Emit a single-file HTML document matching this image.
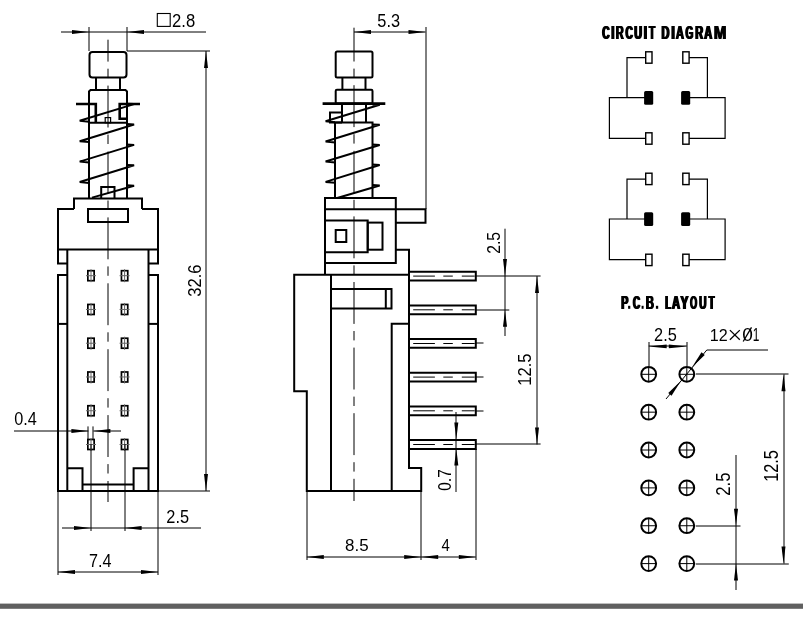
<!DOCTYPE html>
<html><head><meta charset="utf-8"><style>
html,body{margin:0;padding:0;background:#fff;width:803px;height:620px;overflow:hidden;-webkit-font-smoothing:antialiased}
svg{display:block;will-change:transform}
.o{stroke:#000;stroke-width:2;fill:none}
.o3{stroke:#000;stroke-width:2.6;fill:none}
.d{stroke:#000;stroke-width:1;fill:none}
.ds{stroke:#000;stroke-width:1.1;fill:none}
.c{stroke:#000;stroke-width:1;fill:none}
.w{stroke:#000;stroke-width:1.2;fill:none}
.ct{stroke:#000;stroke-width:1.4;fill:#fff}
.cb{stroke:none;fill:#000}
.ar{fill:#000;stroke:none}
.pm{stroke:#000;stroke-width:1.7;fill:none}
.pl{stroke:#666;stroke-width:1}
.h{stroke:#000;stroke-width:2;fill:none}
.hx{stroke:#000;stroke-width:1;fill:none}
.x{stroke:#000;stroke-width:1.3;fill:none}
.t{font-family:"Liberation Sans",sans-serif;fill:#000}
.tb{font-family:"Liberation Sans",sans-serif;font-weight:bold;fill:#000}
</style></head><body>
<svg width="803" height="620" viewBox="0 0 803 620">
<line x1="89" y1="27" x2="89" y2="51" class="d"/>
<line x1="127" y1="27" x2="127" y2="51" class="d"/>
<line x1="61" y1="32" x2="206" y2="32" class="d"/>
<polygon points="89.00,32.00 72.00,34.00 72.00,30.00" class="ar"/>
<polygon points="127.00,32.00 144.00,30.00 144.00,34.00" class="ar"/>
<rect x="157.3" y="13.5" width="12.9" height="12.9" rx="0" class="ds"/>
<text x="0" y="0" transform="matrix(0.9261,0,0,1.0077,172.07,26.90)" class="t" font-size="18">2.8</text>
<line x1="127" y1="51" x2="210" y2="51" class="d"/>
<line x1="206" y1="51" x2="206" y2="491" class="d"/>
<polygon points="206.00,51.00 208.00,68.00 204.00,68.00" class="ar"/>
<polygon points="206.00,491.00 204.00,474.00 208.00,474.00" class="ar"/>
<text x="0" y="0" transform="matrix(0,-0.9182,1.0692,0,201.00,296.72)" class="t" font-size="18">32.6</text>
<rect x="89.5" y="52" width="37" height="25.5" rx="3" class="o"/>
<line x1="96" y1="77.5" x2="96" y2="89.5" class="o"/>
<line x1="120" y1="77.5" x2="120" y2="89.5" class="o"/>
<polyline points="89,198 89,91.5 90.5,90 125.5,90 127,91.5 127,198" class="o"/>
<polyline points="76,104 95.8,104 95.8,122.8" class="o3"/>
<polyline points="140,104 119.7,104 119.7,118.8 127,118.8" class="o3"/>
<line x1="89" y1="122.8" x2="127" y2="122.8" class="o"/>
<rect x="105.2" y="117.6" width="5.4" height="5.2" rx="0" class="w"/>
<polyline points="89,121.7 79.7,120.8 134.1,104.1 127,103.69999999999999" class="o"/>
<polyline points="89,142.1 79.7,141.2 134.1,124.49999999999999 127,124.09999999999998" class="o"/>
<polyline points="89,162.5 79.7,161.6 134.1,144.9 127,144.5" class="o"/>
<polyline points="89,182.9 79.7,182.0 134.1,165.3 127,164.9" class="o"/>
<polyline points="92,197.6 134.1,185.7 127,185.3" class="o"/>
<polyline points="101.2,198 101.2,187 114.5,187 114.5,198" class="o"/>
<polyline points="74,209 74,198.5 142,198.5 142,209" class="o"/>
<polyline points="74,209 58,209 58,263.4 67.3,263.4" class="o"/>
<polyline points="142,209 158,209 158,263.4 148.5,263.4" class="o"/>
<line x1="58" y1="249.5" x2="158" y2="249.5" class="o"/>
<rect x="88" y="209" width="40" height="13" rx="0" class="o"/>
<polyline points="67.3,275.1 58,275.1 58,491 158,491 158,275.1 148.5,275.1" class="o"/>
<line x1="67.3" y1="249.5" x2="67.3" y2="491" class="o"/>
<line x1="148.5" y1="249.5" x2="148.5" y2="491" class="o"/>
<line x1="58" y1="323.9" x2="67.3" y2="323.9" class="o"/>
<line x1="148.5" y1="323.9" x2="158" y2="323.9" class="o"/>
<polyline points="67.3,468.3 82.5,468.3 82.5,491" class="o"/>
<polyline points="148.5,468.3 133.6,468.3 133.6,491" class="o"/>
<line x1="82.5" y1="484.4" x2="133.6" y2="484.4" class="o"/>
<rect x="87.85" y="270.7" width="6.3" height="10" rx="0" class="pm"/>
<line x1="91" y1="269.2" x2="91" y2="282.2" class="pl"/>
<line x1="86" y1="275.7" x2="96" y2="275.7" class="pl"/>
<rect x="121.44999999999999" y="270.7" width="6.3" height="10" rx="0" class="pm"/>
<line x1="124.6" y1="269.2" x2="124.6" y2="282.2" class="pl"/>
<line x1="119.6" y1="275.7" x2="129.6" y2="275.7" class="pl"/>
<rect x="87.85" y="304.46" width="6.3" height="10" rx="0" class="pm"/>
<line x1="91" y1="302.96" x2="91" y2="315.96" class="pl"/>
<line x1="86" y1="309.46" x2="96" y2="309.46" class="pl"/>
<rect x="121.44999999999999" y="304.46" width="6.3" height="10" rx="0" class="pm"/>
<line x1="124.6" y1="302.96" x2="124.6" y2="315.96" class="pl"/>
<line x1="119.6" y1="309.46" x2="129.6" y2="309.46" class="pl"/>
<rect x="87.85" y="338.21999999999997" width="6.3" height="10" rx="0" class="pm"/>
<line x1="91" y1="336.71999999999997" x2="91" y2="349.71999999999997" class="pl"/>
<line x1="86" y1="343.21999999999997" x2="96" y2="343.21999999999997" class="pl"/>
<rect x="121.44999999999999" y="338.21999999999997" width="6.3" height="10" rx="0" class="pm"/>
<line x1="124.6" y1="336.71999999999997" x2="124.6" y2="349.71999999999997" class="pl"/>
<line x1="119.6" y1="343.21999999999997" x2="129.6" y2="343.21999999999997" class="pl"/>
<rect x="87.85" y="371.98" width="6.3" height="10" rx="0" class="pm"/>
<line x1="91" y1="370.48" x2="91" y2="383.48" class="pl"/>
<line x1="86" y1="376.98" x2="96" y2="376.98" class="pl"/>
<rect x="121.44999999999999" y="371.98" width="6.3" height="10" rx="0" class="pm"/>
<line x1="124.6" y1="370.48" x2="124.6" y2="383.48" class="pl"/>
<line x1="119.6" y1="376.98" x2="129.6" y2="376.98" class="pl"/>
<rect x="87.85" y="405.74" width="6.3" height="10" rx="0" class="pm"/>
<line x1="91" y1="404.24" x2="91" y2="417.24" class="pl"/>
<line x1="86" y1="410.74" x2="96" y2="410.74" class="pl"/>
<rect x="121.44999999999999" y="405.74" width="6.3" height="10" rx="0" class="pm"/>
<line x1="124.6" y1="404.24" x2="124.6" y2="417.24" class="pl"/>
<line x1="119.6" y1="410.74" x2="129.6" y2="410.74" class="pl"/>
<rect x="87.85" y="439.5" width="6.3" height="10" rx="0" class="pm"/>
<line x1="91" y1="438.0" x2="91" y2="451.0" class="pl"/>
<line x1="86" y1="444.5" x2="96" y2="444.5" class="pl"/>
<rect x="121.44999999999999" y="439.5" width="6.3" height="10" rx="0" class="pm"/>
<line x1="124.6" y1="438.0" x2="124.6" y2="451.0" class="pl"/>
<line x1="119.6" y1="444.5" x2="129.6" y2="444.5" class="pl"/>
<line x1="108" y1="39.7" x2="108" y2="502" class="c" stroke-dasharray="41.9 7.1 9.4 7.5" stroke-dashoffset="20"/>
<line x1="88" y1="426.4" x2="88" y2="440" class="d"/>
<line x1="93" y1="426.4" x2="93" y2="440" class="d"/>
<line x1="14" y1="431" x2="88.4" y2="431" class="d"/>
<line x1="93.4" y1="431" x2="121" y2="431" class="d"/>
<polygon points="88.40,431.00 71.40,433.00 71.40,429.00" class="ar"/>
<polygon points="93.40,431.00 110.40,429.00 110.40,433.00" class="ar"/>
<text x="0" y="0" transform="matrix(0.9042,0,0,0.9923,14.30,424.90)" class="t" font-size="18">0.4</text>
<line x1="91" y1="444" x2="91" y2="531" class="d"/>
<line x1="125" y1="444" x2="125" y2="531" class="d"/>
<line x1="58" y1="491" x2="58" y2="575" class="d"/>
<line x1="158" y1="491" x2="158" y2="575" class="d"/>
<line x1="158" y1="491" x2="210" y2="491" class="d"/>
<line x1="62" y1="528" x2="201" y2="528" class="d"/>
<polygon points="91.00,528.00 74.00,530.00 74.00,526.00" class="ar"/>
<polygon points="124.60,528.00 141.60,526.00 141.60,530.00" class="ar"/>
<text x="0" y="0" transform="matrix(0.9087,0,0,1.0000,166.29,523.00)" class="t" font-size="18">2.5</text>
<line x1="58" y1="572" x2="158" y2="572" class="d"/>
<polygon points="58.00,572.00 75.00,570.00 75.00,574.00" class="ar"/>
<polygon points="158.00,572.00 141.00,574.00 141.00,570.00" class="ar"/>
<text x="0" y="0" transform="matrix(0.9000,0,0,1.0000,89.10,566.90)" class="t" font-size="18">7.4</text>
<line x1="426" y1="27" x2="426" y2="209" class="d"/>
<line x1="354" y1="32" x2="425.5" y2="32" class="d"/>
<polygon points="354.00,32.00 371.00,30.00 371.00,34.00" class="ar"/>
<polygon points="425.50,32.00 408.50,34.00 408.50,30.00" class="ar"/>
<text x="0" y="0" transform="matrix(0.9087,0,0,0.9923,377.29,26.90)" class="t" font-size="18">5.3</text>
<rect x="335.7" y="51.4" width="36.8" height="26" rx="1.5" class="o"/>
<line x1="342.4" y1="77" x2="342.4" y2="89.8" class="o"/>
<line x1="365.5" y1="77" x2="365.5" y2="89.8" class="o"/>
<rect x="335.7" y="89.8" width="36.8" height="13.8" rx="1.2" class="o"/>
<line x1="322.6" y1="103.6" x2="385.3" y2="103.6" class="o3"/>
<line x1="342" y1="103.6" x2="342" y2="122.5" class="o"/>
<line x1="366" y1="103.6" x2="366" y2="122.5" class="o"/>
<polyline points="342,112.6 330,112.6 330,122.5 342,122.5" class="o"/>
<polyline points="335,198 335,122.5 372.5,122.5 372.5,198" class="o"/>
<polyline points="335,122.2 325.6,121.3 379.7,104.8 372.5,104.39999999999999" class="o"/>
<polyline points="335,142.4 325.6,141.5 379.7,124.8 372.5,124.39999999999999" class="o"/>
<polyline points="335,162.4 325.6,161.5 379.7,145 372.5,144.6" class="o"/>
<polyline points="335,182.8 325.6,181.9 379.7,165 372.5,164.6" class="o"/>
<polyline points="337.2,198 379.7,185.5 372.5,185.1" class="o"/>
<rect x="325" y="198" width="70.8" height="65" rx="0" class="o"/>
<polyline points="325,209.2 425.5,209.2 425.5,222.7 395.8,222.7" class="o"/>
<polyline points="325,220.5 367.7,220.5 367.7,252.3 325,252.3" class="o"/>
<rect x="367.7" y="222.6" width="14.8" height="27.1" rx="0" class="o"/>
<rect x="335.7" y="230" width="10.6" height="12" rx="0" class="o"/>
<polyline points="395.8,249.7 409,249.7 409,468 421.2,468 421.2,491 306.8,491 306.8,391.3 294.2,391.3 294.2,274.7 409,274.7" class="o"/>
<line x1="325" y1="263" x2="325" y2="274.7" class="o"/>
<line x1="331" y1="274.7" x2="331" y2="491" class="o"/>
<rect x="331" y="289" width="60.5" height="19.5" rx="0" class="o"/>
<line x1="385.8" y1="289" x2="385.8" y2="308.5" class="o"/>
<polyline points="409,323.7 391.7,323.7 391.7,491" class="o"/>
<polyline points="409,271.70000000000005 475.8,271.70000000000005 475.8,280.5 409,280.5" class="o"/>
<line x1="413.2" y1="276.1" x2="474.7" y2="276.1" class="c" stroke-dasharray="21.7 8.4 9.5 9"/>
<polyline points="409,305.38000000000005 475.8,305.38000000000005 475.8,314.18 409,314.18" class="o"/>
<line x1="413.2" y1="309.8" x2="474.7" y2="309.8" class="c" stroke-dasharray="21.7 8.4 9.5 9"/>
<polyline points="409,339.06000000000006 475.8,339.06000000000006 475.8,347.86 409,347.86" class="o"/>
<line x1="413.2" y1="343.5" x2="474.7" y2="343.5" class="c" stroke-dasharray="21.7 8.4 9.5 9"/>
<polyline points="409,372.74 475.8,372.74 475.8,381.53999999999996 409,381.53999999999996" class="o"/>
<line x1="413.2" y1="377.1" x2="474.7" y2="377.1" class="c" stroke-dasharray="21.7 8.4 9.5 9"/>
<polyline points="409,406.4200000000001 475.8,406.4200000000001 475.8,415.22 409,415.22" class="o"/>
<line x1="413.2" y1="410.8" x2="474.7" y2="410.8" class="c" stroke-dasharray="21.7 8.4 9.5 9"/>
<polyline points="409,440.1 475.8,440.1 475.8,448.9 409,448.9" class="o"/>
<line x1="413.2" y1="444.5" x2="474.7" y2="444.5" class="c" stroke-dasharray="21.7 8.4 9.5 9"/>
<line x1="354" y1="27.7" x2="354" y2="501" class="c" stroke-dasharray="41.9 7.1 9.4 7.2" stroke-dashoffset="8.1"/>
<line x1="475.8" y1="276" x2="540.6" y2="276" class="d"/>
<line x1="475.8" y1="310" x2="509.3" y2="310" class="d"/>
<line x1="475.8" y1="343" x2="483.5" y2="343" class="d"/>
<line x1="475.8" y1="377" x2="483.5" y2="377" class="d"/>
<line x1="475.8" y1="411" x2="483.5" y2="411" class="d"/>
<line x1="475.8" y1="444" x2="540.6" y2="444" class="d"/>
<line x1="505" y1="228.7" x2="505" y2="336" class="d"/>
<polygon points="505.00,276.10 503.00,259.10 507.00,259.10" class="ar"/>
<polygon points="505.00,309.78 507.00,326.78 503.00,326.78" class="ar"/>
<text x="0" y="0" transform="matrix(0,-0.8739,1.0615,0,499.80,253.77)" class="t" font-size="18">2.5</text>
<line x1="537" y1="276.1" x2="537" y2="444.5" class="d"/>
<polygon points="537.00,276.10 539.00,293.10 535.00,293.10" class="ar"/>
<polygon points="537.00,444.50 535.00,427.50 539.00,427.50" class="ar"/>
<text x="0" y="0" transform="matrix(0,-0.9182,1.0462,0,531.30,385.72)" class="t" font-size="18">12.5</text>
<line x1="456" y1="412" x2="456" y2="492" class="d"/>
<polygon points="456.30,439.50 454.30,422.50 458.30,422.50" class="ar"/>
<polygon points="456.30,448.60 458.30,465.60 454.30,465.60" class="ar"/>
<text x="0" y="0" transform="matrix(0,-0.8609,1.0231,0,451.00,490.76)" class="t" font-size="18">0.7</text>
<line x1="307" y1="491" x2="307" y2="560" class="d"/>
<line x1="476" y1="449" x2="476" y2="560" class="d"/>
<line x1="421" y1="491" x2="421" y2="560" class="d"/>
<line x1="306.8" y1="557" x2="475.8" y2="557" class="d"/>
<polygon points="306.80,557.00 323.80,555.00 323.80,559.00" class="ar"/>
<polygon points="421.20,557.00 404.20,559.00 404.20,555.00" class="ar"/>
<polygon points="421.20,557.00 438.20,555.00 438.20,559.00" class="ar"/>
<polygon points="475.80,557.00 458.80,559.00 458.80,555.00" class="ar"/>
<text x="0" y="0" transform="matrix(0.9435,0,0,0.9538,345.06,550.60)" class="t" font-size="18">8.5</text>
<text x="0" y="0" transform="matrix(0.8300,0,0,0.9538,441.60,550.60)" class="t" font-size="18">4</text>
<text x="0" y="0" transform="matrix(0.5636,0,0,0.9692,601.54,38.60)" class="tb" font-size="18">C</text><text x="0" y="0" transform="matrix(0.5636,0,0,0.9692,602.24,38.60)" class="tb" font-size="18">C</text><text x="0" y="0" transform="matrix(0.5636,0,0,0.9692,602.94,38.60)" class="tb" font-size="18">C</text>
<text x="0" y="0" transform="matrix(0.7000,0,0,0.9692,610.40,38.60)" class="tb" font-size="18">I</text><text x="0" y="0" transform="matrix(0.7000,0,0,0.9692,611.10,38.60)" class="tb" font-size="18">I</text><text x="0" y="0" transform="matrix(0.7000,0,0,0.9692,611.80,38.60)" class="tb" font-size="18">I</text>
<text x="0" y="0" transform="matrix(0.6000,0,0,0.9692,615.20,38.60)" class="tb" font-size="18">R</text><text x="0" y="0" transform="matrix(0.6000,0,0,0.9692,615.90,38.60)" class="tb" font-size="18">R</text><text x="0" y="0" transform="matrix(0.6000,0,0,0.9692,616.60,38.60)" class="tb" font-size="18">R</text>
<text x="0" y="0" transform="matrix(0.5636,0,0,0.9692,624.74,38.60)" class="tb" font-size="18">C</text><text x="0" y="0" transform="matrix(0.5636,0,0,0.9692,625.44,38.60)" class="tb" font-size="18">C</text><text x="0" y="0" transform="matrix(0.5636,0,0,0.9692,626.14,38.60)" class="tb" font-size="18">C</text>
<text x="0" y="0" transform="matrix(0.6000,0,0,0.9692,633.60,38.60)" class="tb" font-size="18">U</text><text x="0" y="0" transform="matrix(0.6000,0,0,0.9692,634.30,38.60)" class="tb" font-size="18">U</text><text x="0" y="0" transform="matrix(0.6000,0,0,0.9692,635.00,38.60)" class="tb" font-size="18">U</text>
<text x="0" y="0" transform="matrix(0.6667,0,0,0.9692,643.03,38.60)" class="tb" font-size="18">I</text><text x="0" y="0" transform="matrix(0.6667,0,0,0.9692,643.73,38.60)" class="tb" font-size="18">I</text><text x="0" y="0" transform="matrix(0.6667,0,0,0.9692,644.43,38.60)" class="tb" font-size="18">I</text>
<text x="0" y="0" transform="matrix(0.5727,0,0,0.9692,648.20,38.60)" class="tb" font-size="18">T</text><text x="0" y="0" transform="matrix(0.5727,0,0,0.9692,648.90,38.60)" class="tb" font-size="18">T</text><text x="0" y="0" transform="matrix(0.5727,0,0,0.9692,649.60,38.60)" class="tb" font-size="18">T</text>
<text x="0" y="0" transform="matrix(0.6091,0,0,0.9692,660.79,38.60)" class="tb" font-size="18">D</text><text x="0" y="0" transform="matrix(0.6091,0,0,0.9692,661.49,38.60)" class="tb" font-size="18">D</text><text x="0" y="0" transform="matrix(0.6091,0,0,0.9692,662.19,38.60)" class="tb" font-size="18">D</text>
<text x="0" y="0" transform="matrix(0.7333,0,0,0.9692,670.57,38.60)" class="tb" font-size="18">I</text><text x="0" y="0" transform="matrix(0.7333,0,0,0.9692,671.27,38.60)" class="tb" font-size="18">I</text><text x="0" y="0" transform="matrix(0.7333,0,0,0.9692,671.97,38.60)" class="tb" font-size="18">I</text>
<text x="0" y="0" transform="matrix(0.6182,0,0,0.9692,675.18,38.60)" class="tb" font-size="18">A</text><text x="0" y="0" transform="matrix(0.6182,0,0,0.9692,675.88,38.60)" class="tb" font-size="18">A</text><text x="0" y="0" transform="matrix(0.6182,0,0,0.9692,676.58,38.60)" class="tb" font-size="18">A</text>
<text x="0" y="0" transform="matrix(0.5500,0,0,0.9692,684.85,38.60)" class="tb" font-size="18">G</text><text x="0" y="0" transform="matrix(0.5500,0,0,0.9692,685.55,38.60)" class="tb" font-size="18">G</text><text x="0" y="0" transform="matrix(0.5500,0,0,0.9692,686.25,38.60)" class="tb" font-size="18">G</text>
<text x="0" y="0" transform="matrix(0.6091,0,0,0.9692,694.59,38.60)" class="tb" font-size="18">R</text><text x="0" y="0" transform="matrix(0.6091,0,0,0.9692,695.29,38.60)" class="tb" font-size="18">R</text><text x="0" y="0" transform="matrix(0.6091,0,0,0.9692,695.99,38.60)" class="tb" font-size="18">R</text>
<text x="0" y="0" transform="matrix(0.6091,0,0,0.9692,703.59,38.60)" class="tb" font-size="18">A</text><text x="0" y="0" transform="matrix(0.6091,0,0,0.9692,704.29,38.60)" class="tb" font-size="18">A</text><text x="0" y="0" transform="matrix(0.6091,0,0,0.9692,704.99,38.60)" class="tb" font-size="18">A</text>
<text x="0" y="0" transform="matrix(0.8308,0,0,0.9692,713.17,38.60)" class="tb" font-size="18">M</text><text x="0" y="0" transform="matrix(0.8308,0,0,0.9692,713.87,38.60)" class="tb" font-size="18">M</text><text x="0" y="0" transform="matrix(0.8308,0,0,0.9692,714.57,38.60)" class="tb" font-size="18">M</text>
<polyline points="645,57.7 627,57.7 627,97.6" class="w"/>
<polyline points="645,97.6 609.4,97.6 609.4,138.3 645,138.3" class="w"/>
<polyline points="689,57.7 707.4,57.7 707.4,97.6" class="w"/>
<polyline points="689,97.6 725.1,97.6 725.1,138.3 689,138.3" class="w"/>
<rect x="645.7" y="51.8" width="6.3" height="11.4" rx="0" class="ct"/>
<rect x="645.7" y="132.8" width="6.3" height="11.4" rx="0" class="ct"/>
<rect x="644.1" y="90.9" width="9.1" height="13.8" rx="1.5" class="cb"/>
<rect x="682.8" y="51.8" width="6.3" height="11.4" rx="0" class="ct"/>
<rect x="682.8" y="132.8" width="6.3" height="11.4" rx="0" class="ct"/>
<rect x="681.1" y="90.9" width="9.1" height="13.8" rx="1.5" class="cb"/>
<polyline points="645,179.10000000000002 627,179.10000000000002 627,219.0" class="w"/>
<polyline points="645,219.0 609.4,219.0 609.4,259.70000000000005 645,259.70000000000005" class="w"/>
<polyline points="689,179.10000000000002 707.4,179.10000000000002 707.4,219.0" class="w"/>
<polyline points="689,219.0 725.1,219.0 725.1,259.70000000000005 689,259.70000000000005" class="w"/>
<rect x="645.7" y="173.2" width="6.3" height="11.4" rx="0" class="ct"/>
<rect x="645.7" y="254.20000000000002" width="6.3" height="11.4" rx="0" class="ct"/>
<rect x="644.1" y="212.3" width="9.1" height="13.8" rx="1.5" class="cb"/>
<rect x="682.8" y="173.2" width="6.3" height="11.4" rx="0" class="ct"/>
<rect x="682.8" y="254.20000000000002" width="6.3" height="11.4" rx="0" class="ct"/>
<rect x="681.1" y="212.3" width="9.1" height="13.8" rx="1.5" class="cb"/>
<text x="0" y="0" transform="matrix(0.5900,0,0,0.9846,620.51,308.80)" class="tb" font-size="18">P</text><text x="0" y="0" transform="matrix(0.5900,0,0,0.9846,621.21,308.80)" class="tb" font-size="18">P</text><text x="0" y="0" transform="matrix(0.5900,0,0,0.9846,621.91,308.80)" class="tb" font-size="18">P</text>
<text x="0" y="0" transform="matrix(0.5455,0,0,0.9846,632.35,308.80)" class="tb" font-size="18">C</text><text x="0" y="0" transform="matrix(0.5455,0,0,0.9846,633.05,308.80)" class="tb" font-size="18">C</text><text x="0" y="0" transform="matrix(0.5455,0,0,0.9846,633.75,308.80)" class="tb" font-size="18">C</text>
<text x="0" y="0" transform="matrix(0.6182,0,0,0.9846,645.18,308.80)" class="tb" font-size="18">B</text><text x="0" y="0" transform="matrix(0.6182,0,0,0.9846,645.88,308.80)" class="tb" font-size="18">B</text><text x="0" y="0" transform="matrix(0.6182,0,0,0.9846,646.58,308.80)" class="tb" font-size="18">B</text>
<text x="0" y="0" transform="matrix(0.5222,0,0,0.9846,664.48,308.80)" class="tb" font-size="18">L</text><text x="0" y="0" transform="matrix(0.5222,0,0,0.9846,665.18,308.80)" class="tb" font-size="18">L</text><text x="0" y="0" transform="matrix(0.5222,0,0,0.9846,665.88,308.80)" class="tb" font-size="18">L</text>
<text x="0" y="0" transform="matrix(0.6182,0,0,0.9846,671.28,308.80)" class="tb" font-size="18">A</text><text x="0" y="0" transform="matrix(0.6182,0,0,0.9846,671.98,308.80)" class="tb" font-size="18">A</text><text x="0" y="0" transform="matrix(0.6182,0,0,0.9846,672.68,308.80)" class="tb" font-size="18">A</text>
<text x="0" y="0" transform="matrix(0.6600,0,0,0.9846,679.84,308.80)" class="tb" font-size="18">Y</text><text x="0" y="0" transform="matrix(0.6600,0,0,0.9846,680.54,308.80)" class="tb" font-size="18">Y</text><text x="0" y="0" transform="matrix(0.6600,0,0,0.9846,681.24,308.80)" class="tb" font-size="18">Y</text>
<text x="0" y="0" transform="matrix(0.5000,0,0,0.9846,689.40,308.80)" class="tb" font-size="18">O</text><text x="0" y="0" transform="matrix(0.5000,0,0,0.9846,690.10,308.80)" class="tb" font-size="18">O</text><text x="0" y="0" transform="matrix(0.5000,0,0,0.9846,690.80,308.80)" class="tb" font-size="18">O</text>
<text x="0" y="0" transform="matrix(0.5727,0,0,0.9846,698.43,308.80)" class="tb" font-size="18">U</text><text x="0" y="0" transform="matrix(0.5727,0,0,0.9846,699.13,308.80)" class="tb" font-size="18">U</text><text x="0" y="0" transform="matrix(0.5727,0,0,0.9846,699.83,308.80)" class="tb" font-size="18">U</text>
<text x="0" y="0" transform="matrix(0.5182,0,0,0.9846,708.00,308.80)" class="tb" font-size="18">T</text><text x="0" y="0" transform="matrix(0.5182,0,0,0.9846,708.70,308.80)" class="tb" font-size="18">T</text><text x="0" y="0" transform="matrix(0.5182,0,0,0.9846,709.40,308.80)" class="tb" font-size="18">T</text>
<rect x="628.0999999999999" y="305.8" width="2.200000000000068" height="3" rx="0" class="cb"/>
<rect x="641.5999999999999" y="305.8" width="2.0000000000000226" height="3" rx="0" class="cb"/>
<rect x="655.9" y="305.8" width="2.299999999999977" height="3" rx="0" class="cb"/>
<circle cx="648.7" cy="374.3" r="7.4" class="h"/>
<line x1="641.3000000000001" y1="374.3" x2="656.1" y2="374.3" class="hx"/>
<line x1="648.7" y1="366.90000000000003" x2="648.7" y2="381.7" class="hx"/>
<circle cx="686.8" cy="374.3" r="7.4" class="h"/>
<line x1="679.4" y1="374.3" x2="694.1999999999999" y2="374.3" class="hx"/>
<line x1="686.8" y1="366.90000000000003" x2="686.8" y2="381.7" class="hx"/>
<circle cx="648.7" cy="412.2" r="7.4" class="h"/>
<line x1="641.3000000000001" y1="412.16" x2="656.1" y2="412.16" class="hx"/>
<line x1="648.7" y1="404.76000000000005" x2="648.7" y2="419.56" class="hx"/>
<circle cx="686.8" cy="412.2" r="7.4" class="h"/>
<line x1="679.4" y1="412.16" x2="694.1999999999999" y2="412.16" class="hx"/>
<line x1="686.8" y1="404.76000000000005" x2="686.8" y2="419.56" class="hx"/>
<circle cx="648.7" cy="450.0" r="7.4" class="h"/>
<line x1="641.3000000000001" y1="450.02" x2="656.1" y2="450.02" class="hx"/>
<line x1="648.7" y1="442.62" x2="648.7" y2="457.41999999999996" class="hx"/>
<circle cx="686.8" cy="450.0" r="7.4" class="h"/>
<line x1="679.4" y1="450.02" x2="694.1999999999999" y2="450.02" class="hx"/>
<line x1="686.8" y1="442.62" x2="686.8" y2="457.41999999999996" class="hx"/>
<circle cx="648.7" cy="487.9" r="7.4" class="h"/>
<line x1="641.3000000000001" y1="487.88" x2="656.1" y2="487.88" class="hx"/>
<line x1="648.7" y1="480.48" x2="648.7" y2="495.28" class="hx"/>
<circle cx="686.8" cy="487.9" r="7.4" class="h"/>
<line x1="679.4" y1="487.88" x2="694.1999999999999" y2="487.88" class="hx"/>
<line x1="686.8" y1="480.48" x2="686.8" y2="495.28" class="hx"/>
<circle cx="648.7" cy="525.7" r="7.4" class="h"/>
<line x1="641.3000000000001" y1="525.74" x2="656.1" y2="525.74" class="hx"/>
<line x1="648.7" y1="518.34" x2="648.7" y2="533.14" class="hx"/>
<circle cx="686.8" cy="525.7" r="7.4" class="h"/>
<line x1="679.4" y1="525.74" x2="694.1999999999999" y2="525.74" class="hx"/>
<line x1="686.8" y1="518.34" x2="686.8" y2="533.14" class="hx"/>
<circle cx="648.7" cy="563.6" r="7.4" class="h"/>
<line x1="641.3000000000001" y1="563.6" x2="656.1" y2="563.6" class="hx"/>
<line x1="648.7" y1="556.2" x2="648.7" y2="571.0" class="hx"/>
<circle cx="686.8" cy="563.6" r="7.4" class="h"/>
<line x1="679.4" y1="563.6" x2="694.1999999999999" y2="563.6" class="hx"/>
<line x1="686.8" y1="556.2" x2="686.8" y2="571.0" class="hx"/>
<line x1="649" y1="342" x2="649" y2="366" class="d"/>
<line x1="687" y1="342" x2="687" y2="366" class="d"/>
<line x1="648.7" y1="346" x2="686.8" y2="346" class="d"/>
<polygon points="648.70,346.40 666.70,344.50 666.70,348.30" class="ar"/>
<polygon points="686.80,346.40 668.80,348.30 668.80,344.50" class="ar"/>
<text x="0" y="0" transform="matrix(0.9087,0,0,0.9923,654.09,340.90)" class="t" font-size="18">2.5</text>
<text x="0" y="0" transform="matrix(0.8944,0,0,0.9538,709.71,340.50)" class="t" font-size="18">12</text>
<line x1="729.9" y1="330.1" x2="739.8" y2="339.7" class="x"/>
<line x1="739.8" y1="330.1" x2="729.9" y2="339.7" class="x"/>
<text x="0" y="0" transform="matrix(1.0625,0,0,0.9846,742.34,340.80)" class="t" font-size="18">0</text>
<line x1="743.2" y1="341.5" x2="751.5" y2="327.4" class="x"/>
<text x="0" y="0" transform="matrix(0.6625,0,0,0.9846,752.64,340.80)" class="t" font-size="18">1</text>
<line x1="706.8" y1="350" x2="768" y2="350" class="d"/>
<polyline points="706.8,350 666,399" class="d"/>
<polygon points="681.00,380.80 671.51,395.66 668.27,392.99" class="ar"/>
<polygon points="692.00,367.20 701.49,352.34 704.73,355.01" class="ar"/>
<line x1="695.8" y1="374" x2="788.5" y2="374" class="d"/>
<line x1="695.8" y1="526" x2="740.5" y2="526" class="d"/>
<line x1="695.8" y1="564" x2="788.8" y2="564" class="d"/>
<line x1="784" y1="374.3" x2="784" y2="563.6" class="d"/>
<polygon points="783.50,374.30 785.50,391.30 781.50,391.30" class="ar"/>
<polygon points="783.50,563.60 781.50,546.60 785.50,546.60" class="ar"/>
<text x="0" y="0" transform="matrix(0,-0.9061,1.1077,0,778.20,481.81)" class="t" font-size="18">12.5</text>
<line x1="736" y1="455" x2="736" y2="590" class="d"/>
<polygon points="736.00,525.74 734.00,508.74 738.00,508.74" class="ar"/>
<polygon points="736.00,563.60 738.00,580.60 734.00,580.60" class="ar"/>
<text x="0" y="0" transform="matrix(0,-0.9304,1.0923,0,730.40,495.73)" class="t" font-size="18">2.5</text>
<rect x="0" y="603.6" width="803" height="5.2" fill="#606060"/>
</svg>
</body></html>
